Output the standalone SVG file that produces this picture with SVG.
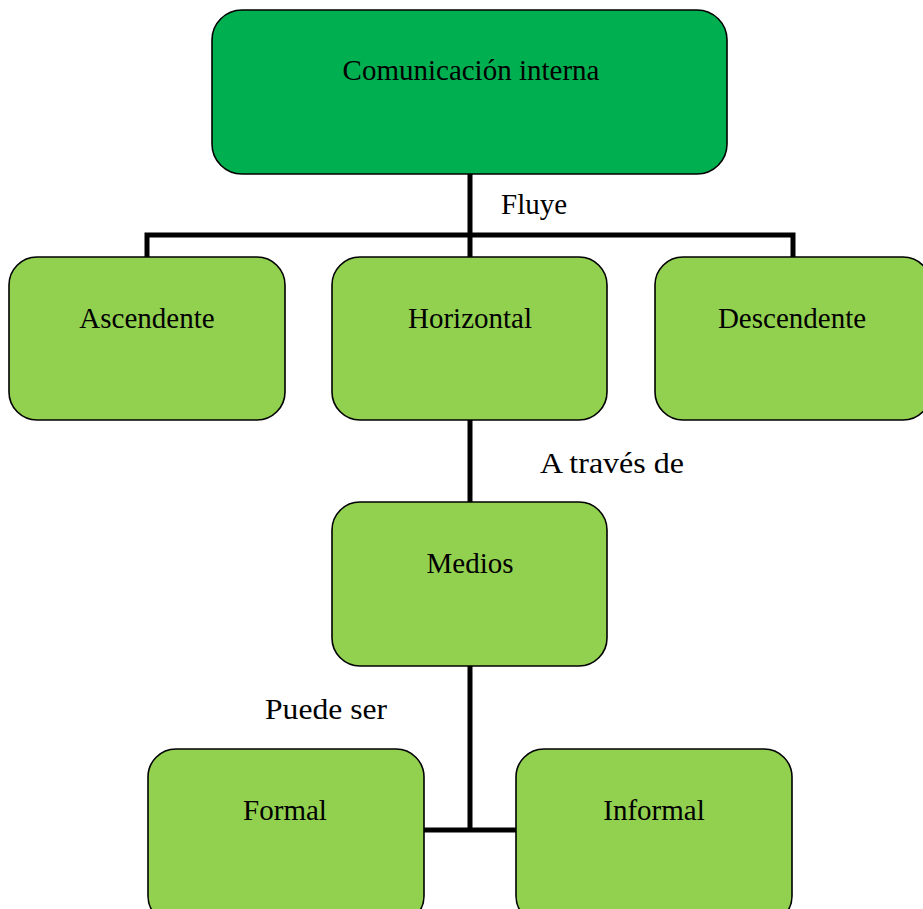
<svg xmlns="http://www.w3.org/2000/svg" width="923" height="909" viewBox="0 0 923 909">
<style>
.box{stroke:#000;stroke-width:1.6}
.main{fill:#00B050}
.sub{fill:#92D050}
.t{font-family:"Liberation Serif","Times New Roman",serif;font-size:29px;fill:#000}
.c{text-anchor:middle}
.ln{stroke:#000;stroke-width:5;fill:none}
</style>
<rect width="923" height="909" fill="#fff"/>
<g id="connectors">
<path class="ln" d="M470 174V257M147 257V235H793V257"/>
<path class="ln" d="M470 420V502"/>
<path class="ln" d="M470 666V830M424 830H516"/>
<text class="t" x="501" y="214">Fluye</text>
<text class="t" x="540" y="473" textLength="144" lengthAdjust="spacingAndGlyphs">A través de</text>
<text class="t" x="265" y="719" textLength="122" lengthAdjust="spacingAndGlyphs">Puede ser</text>
</g>
<g id="n-comunicacion"><rect class="box main" x="212" y="10" width="515" height="164" rx="30"/><text class="t c" x="471" y="80">Comunicación interna</text></g>
<g id="n-ascendente"><rect class="box sub" x="9" y="257" width="276" height="163" rx="28"/><text class="t c" x="147" y="328">Ascendente</text></g>
<g id="n-horizontal"><rect class="box sub" x="332" y="257" width="275" height="163" rx="28"/><text class="t c" x="470" y="328">Horizontal</text></g>
<g id="n-descendente"><rect class="box sub" x="655" y="257" width="276" height="163" rx="28"/><text class="t c" x="792" y="328">Descendente</text></g>
<g id="n-medios"><rect class="box sub" x="332" y="502" width="275" height="164" rx="28"/><text class="t c" x="470" y="573">Medios</text></g>
<g id="n-formal"><rect class="box sub" x="148" y="749" width="276" height="175" rx="28"/><text class="t c" x="285" y="820">Formal</text></g>
<g id="n-informal"><rect class="box sub" x="516" y="749" width="276" height="175" rx="28"/><text class="t c" x="654" y="820">Informal</text></g>
</svg>
